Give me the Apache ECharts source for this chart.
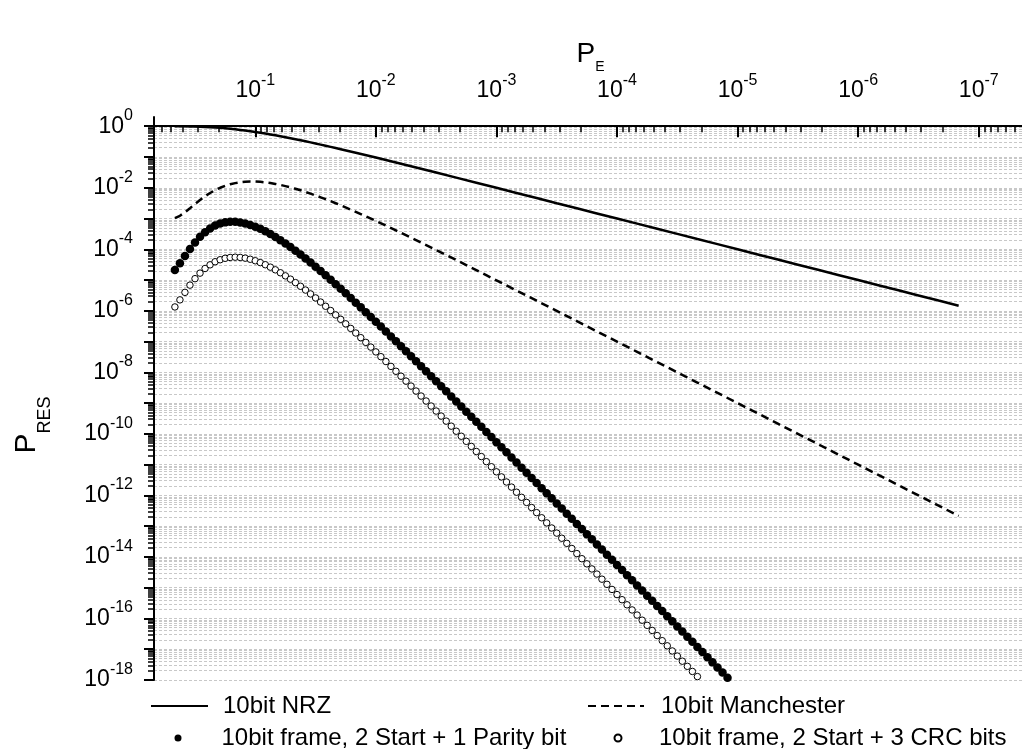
<!DOCTYPE html>
<html><head><meta charset="utf-8">
<script src="https://cdn.jsdelivr.net/npm/echarts@6/dist/echarts.min.js"></script>
<style>html,body{margin:0;padding:0;background:#fff}#c{width:1022px;height:749px}</style>
</head><body><div id="c"></div>
<script>
const seriesNames = ['10bit NRZ', '10bit Manchester', '10bit frame, 2 Start + 1 Parity bit', '10bit frame, 2 Start + 3 CRC bits'];
const xLabelExps = [-7, -6, -5, -4, -3, -2, -1];
const yTickExps = [-18, -17, -16, -15, -14, -13, -12, -11, -10, -9, -8, -7, -6, -5, -4, -3, -2, -1, 0];
const yLabelExps = [-18, -16, -14, -12, -10, -8, -6, -4, -2, 0];

const peDots = [
 4.642e-1, 4.217e-1, 3.831e-1, 3.481e-1, 3.162e-1, 2.873e-1, 2.610e-1, 2.371e-1, 2.154e-1, 1.957e-1, 1.778e-1, 1.616e-1, 1.468e-1, 1.334e-1, 1.212e-1, 1.101e-1,
 1e-1, 9.085e-2, 8.254e-2, 7.499e-2, 6.813e-2, 6.190e-2, 5.623e-2, 5.109e-2, 4.642e-2, 4.217e-2, 3.831e-2, 3.481e-2, 3.162e-2, 2.873e-2, 2.610e-2, 2.371e-2, 2.154e-2, 1.957e-2, 1.778e-2, 1.616e-2, 1.468e-2, 1.334e-2, 1.212e-2, 1.101e-2,
 1e-2, 9.085e-3, 8.254e-3, 7.499e-3, 6.813e-3, 6.190e-3, 5.623e-3, 5.109e-3, 4.642e-3, 4.217e-3, 3.831e-3, 3.481e-3, 3.162e-3, 2.873e-3, 2.610e-3, 2.371e-3, 2.154e-3, 1.957e-3, 1.778e-3, 1.616e-3, 1.468e-3, 1.334e-3, 1.212e-3, 1.101e-3,
 1e-3, 9.085e-4, 8.254e-4, 7.499e-4, 6.813e-4, 6.190e-4, 5.623e-4, 5.109e-4, 4.642e-4, 4.217e-4, 3.831e-4, 3.481e-4, 3.162e-4, 2.873e-4, 2.610e-4, 2.371e-4, 2.154e-4, 1.957e-4, 1.778e-4, 1.616e-4, 1.468e-4, 1.334e-4, 1.212e-4, 1.101e-4,
 1e-4, 9.085e-5, 8.254e-5, 7.499e-5, 6.813e-5, 6.190e-5, 5.623e-5, 5.109e-5, 4.642e-5, 4.217e-5, 3.831e-5, 3.481e-5, 3.162e-5, 2.873e-5, 2.610e-5, 2.371e-5, 2.154e-5, 1.957e-5, 1.778e-5, 1.616e-5, 1.468e-5, 1.334e-5, 1.212e-5, 1.101e-5
];

const parityExp = [
 -4.673, -4.456, -4.222, -3.992, -3.780, -3.596, -3.443, -3.322, -3.230, -3.165, -3.125, -3.106, -3.107, -3.126, -3.159, -3.207,
 -3.266, -3.336, -3.416, -3.504, -3.600, -3.703, -3.813, -3.927, -4.047, -4.171, -4.300, -4.431, -4.567, -4.705, -4.846, -4.989, -5.134, -5.282, -5.431, -5.582, -5.734, -5.888, -6.043, -6.199,
 -6.356, -6.513, -6.672, -6.831, -6.992, -7.152, -7.313, -7.475, -7.637, -7.800, -7.963, -8.126, -8.290, -8.454, -8.618, -8.782, -8.947, -9.112, -9.277, -9.442, -9.607, -9.772, -9.938, -10.104,
 -10.269, -10.435, -10.601, -10.767, -10.933, -11.099, -11.265, -11.431, -11.597, -11.764, -11.930, -12.096, -12.263, -12.429, -12.595, -12.762, -12.928, -13.095, -13.261, -13.428, -13.594, -13.761, -13.928, -14.094,
 -14.261, -14.427, -14.594, -14.760, -14.927, -15.094, -15.260, -15.427, -15.594, -15.760, -15.927, -16.093, -16.260, -16.427, -16.593, -16.760, -16.927, -17.093, -17.260, -17.427, -17.593, -17.760, -17.927, -18.093
];

const crcExp = [
 -5.874, -5.644, -5.400, -5.165, -4.955, -4.775, -4.624, -4.505, -4.405, -4.340, -4.293, -4.266, -4.257, -4.265, -4.288, -4.324,
 -4.373, -4.433, -4.502, -4.581, -4.668, -4.763, -4.864, -4.971, -5.084, -5.202, -5.325, -5.451, -5.581, -5.715, -5.852, -5.991, -6.133, -6.277, -6.423, -6.572, -6.721, -6.873, -7.026, -7.180,
 -7.335, -7.491, -7.648, -7.806, -7.965, -8.125, -8.285, -8.446, -8.608, -8.770, -8.932, -9.095, -9.258, -9.421, -9.585, -9.749, -9.913, -10.077, -10.242, -10.407, -10.572, -10.737, -10.902, -11.068,
 -11.233, -11.399, -11.564, -11.730, -11.896, -12.062, -12.228, -12.394, -12.560, -12.727, -12.893, -13.059, -13.225, -13.392, -13.558, -13.725, -13.891, -14.057, -14.224, -14.390, -14.557, -14.723, -14.890, -15.056,
 -15.223, -15.390, -15.556, -15.723, -15.889, -16.056, -16.223, -16.389, -16.556, -16.722, -16.889, -17.056, -17.222, -17.389, -17.556, -17.722, -17.889, -18.056
];

const peLine = [
 4.642e-1, 4.217e-1, 3.831e-1, 3.481e-1, 3.162e-1, 2.873e-1, 2.610e-1, 2.371e-1, 2.154e-1, 1.957e-1, 1.778e-1, 1.616e-1, 1.468e-1, 1.334e-1, 1.212e-1, 1.101e-1,
 1e-1, 9.085e-2, 8.254e-2, 7.499e-2, 6.813e-2, 6.190e-2, 5.623e-2, 5.109e-2, 4.642e-2, 4.217e-2, 3.831e-2, 3.481e-2, 3.162e-2, 2.873e-2, 2.610e-2, 2.371e-2, 2.154e-2, 1.957e-2,
 1.468e-2, 1e-2, 6.813e-3, 4.642e-3, 3.162e-3, 2.154e-3, 1.468e-3, 1e-3, 6.813e-4, 4.642e-4, 3.162e-4, 2.154e-4, 1.468e-4, 1e-4, 6.813e-5, 4.642e-5, 3.162e-5, 2.154e-5, 1.468e-5,
 1e-5, 6.813e-6, 4.642e-6, 3.162e-6, 2.154e-6, 1.468e-6, 1e-6, 6.813e-7, 4.642e-7, 3.162e-7, 2.154e-7, 1.468e-7
];

const nrzExp = [
 -0.001, -0.002, -0.003, -0.006, -0.010, -0.015, -0.022, -0.030, -0.040, -0.052, -0.066, -0.082, -0.099, -0.119, -0.140, -0.162,
 -0.186, -0.212, -0.238, -0.266, -0.296, -0.326, -0.357, -0.389, -0.422, -0.456, -0.490, -0.525, -0.561, -0.597, -0.634, -0.671, -0.708, -0.746,
 -0.861, -1.019, -1.180, -1.342, -1.506, -1.671, -1.836, -2.002, -2.168, -2.334, -2.501, -2.667, -2.834, -3.000, -3.167, -3.333, -3.500, -3.667, -3.833,
 -4.000, -4.167, -4.333, -4.500, -4.667, -4.833, -5.000, -5.167, -5.333, -5.500, -5.667, -5.833
];

const manExp = [
 -2.990, -2.911, -2.796, -2.664, -2.528, -2.397, -2.277, -2.171, -2.079, -2.001, -1.938, -1.887, -1.849, -1.822, -1.805, -1.798,
 -1.799, -1.808, -1.824, -1.847, -1.875, -1.908, -1.946, -1.987, -2.034, -2.083, -2.136, -2.191, -2.249, -2.310, -2.372, -2.437, -2.503, -2.570,
 -2.782, -3.078, -3.387, -3.703, -4.025, -4.350, -4.678, -5.008, -5.339, -5.670, -6.002, -6.335, -6.668, -7.001, -7.334, -7.667, -8.000, -8.334, -8.667,
 -9.000, -9.333, -9.667, -10.000, -10.333, -10.667, -11.000, -11.333, -11.667, -12.000, -12.333, -12.667
];

// ---- chart ----
const FONT = '"Liberation Sans", Arial, Helvetica, sans-serif';
const CLEAR = 'rgba(0,0,0,0)';
const X_MIN = -7.4, X_MAX = -0.16, Y_MIN = -18, Y_MAX = 0.3;

function minorVals(lo, hi) {
  const out = [];
  for (let n = Math.floor(lo) - 1; n <= Math.ceil(hi); n++) {
    for (let k = 2; k <= 9; k++) {
      const v = n + Math.log10(k);
      if (v >= lo && v <= hi) out.push(v);
    }
  }
  return out;
}
const xMajor = [];
for (let n = Math.ceil(X_MIN); n <= Math.floor(X_MAX); n++) xMajor.push(n);

const ex = v => String(Math.round(v));
// base "10" drawn on one axis, exponent drawn on a twin axis shifted upward
const richLbl = {
  b: { fontSize: 23, lineHeight: 24, color: '#000', fontFamily: FONT },
  hb: { fontSize: 23, lineHeight: 24, color: CLEAR, fontFamily: FONT },
  s: { fontSize: 16, lineHeight: 24, color: '#000', fontFamily: FONT },
  hs: { fontSize: 16, lineHeight: 24, color: CLEAR, fontFamily: FONT }
};
const baseFmt = v => '{b|10}{hs|' + ex(v) + '}';
const expFmtX = v => '{hb|10}{s|' + ex(v) + '}';
const expFmtY = v => '{s|' + ex(v) + '}';

const richName = {
  p: { fontSize: 28, lineHeight: 30, color: '#000', fontFamily: FONT },
  hp: { fontSize: 28, lineHeight: 30, color: CLEAR, fontFamily: FONT },
  e: { fontSize: 14, lineHeight: 30, color: '#000', fontFamily: FONT },
  he: { fontSize: 14, lineHeight: 30, color: CLEAR, fontFamily: FONT },
  pY: { fontSize: 30, lineHeight: 32, color: '#000', fontFamily: FONT },
  hpY: { fontSize: 30, lineHeight: 32, color: CLEAR, fontFamily: FONT },
  r: { fontSize: 18, lineHeight: 32, color: '#000', fontFamily: FONT },
  hr: { fontSize: 18, lineHeight: 32, color: CLEAR, fontFamily: FONT }
};

const gridLine = { show: true, lineStyle: { color: '#c8c8c8', width: 1, type: [3, 2] } };
const noSymbol = { color: CLEAR, borderColor: CLEAR, borderWidth: 0 };

const toPts = (xs, ys) => ys.map((y, i) => [Math.log10(xs[i]), y]);

const chart = echarts.init(document.getElementById('c'), null, { renderer: 'canvas' });
chart.setOption({
  animation: false,
  backgroundColor: '#fff',
  textStyle: { fontFamily: FONT },
  grid: { left: 154, right: -5, top: 117, bottom: 69, containLabel: false, outerBoundsMode: 'none' },
  xAxis: [
    {
      type: 'value', position: 'top', inverse: true, min: X_MIN, max: X_MAX,
      name: '{p|P}{he|E}', nameLocation: 'middle', nameGap: 48, nameMoveOverlap: false,
      nameTextStyle: { rich: richName },
      axisLine: { show: true, lineStyle: { color: '#000', width: 2 } },
      axisTick: { show: true, inside: true, length: 11, customValues: xMajor, lineStyle: { color: '#000', width: 2 } },
      axisLabel: { show: true, margin: 14, customValues: xLabelExps, formatter: baseFmt, rich: richLbl },
      splitLine: { show: false }
    },
    {
      type: 'value', position: 'top', inverse: true, min: X_MIN, max: X_MAX,
      name: '{hp|P}{e|E}', nameLocation: 'middle', nameGap: 35, nameMoveOverlap: false,
      nameTextStyle: { rich: richName },
      axisLine: { show: false },
      axisTick: { show: true, inside: true, length: 6, customValues: minorVals(X_MIN, X_MAX), lineStyle: { color: '#000', width: 1.5 } },
      axisLabel: { show: true, margin: 24.5, customValues: xLabelExps, formatter: expFmtX, rich: richLbl },
      splitLine: { show: false }
    }
  ],
  yAxis: [
    {
      type: 'value', min: Y_MIN, max: Y_MAX, position: 'left',
      name: '{pY|P}{hr|RES}', nameLocation: 'middle', nameRotate: 90, nameGap: 111, nameMoveOverlap: false,
      nameTextStyle: { padding: [0, 53, 0, 0], rich: richName },
      axisLine: { show: true, lineStyle: { color: '#000', width: 2 } },
      axisTick: { show: true, inside: false, length: 10, customValues: yTickExps, lineStyle: { color: '#000', width: 2 } },
      axisLabel: { show: true, margin: 21, customValues: yLabelExps, formatter: baseFmt, rich: richLbl },
      splitLine: gridLine
    },
    {
      type: 'value', min: Y_MIN, max: Y_MAX, position: 'left',
      name: '{hpY|P}{r|RES}', nameLocation: 'middle', nameRotate: 90, nameGap: 93, nameMoveOverlap: false,
      nameTextStyle: { padding: [0, 53, 0, 0], rich: richName },
      axisLine: { show: false },
      axisTick: { show: true, inside: false, length: 6, customValues: minorVals(Y_MIN, Y_MAX), lineStyle: { color: '#000', width: 1.5 } },
      axisLabel: { show: true, margin: 21, padding: [0, 0, 21, 0], customValues: yLabelExps, formatter: expFmtY, rich: richLbl },
      splitLine: gridLine
    }
  ],
  legend: [
    { data: [seriesNames[0]], left: 150, top: 694, padding: 0, itemWidth: 57, itemHeight: 14, selectedMode: false,
      itemStyle: noSymbol,
      textStyle: { fontSize: 24, color: '#000', fontFamily: FONT, padding: [0, 0, 0, 10] } },
    { data: [seriesNames[1]], left: 587, top: 694, padding: 0, itemWidth: 56, itemHeight: 14, selectedMode: false,
      itemStyle: noSymbol,
      textStyle: { fontSize: 24, color: '#000', fontFamily: FONT, padding: [0, 0, 0, 12] } },
    { data: [seriesNames[2]], left: 174.5, top: 726, padding: 0, itemWidth: 57, itemHeight: 7, selectedMode: false,
      textStyle: { fontSize: 24, color: '#000', fontFamily: FONT, padding: [0, 0, 0, 10] } },
    { data: [seriesNames[3]], left: 613.5, top: 726, padding: 0, itemWidth: 56, itemHeight: 7, selectedMode: false,
      textStyle: { fontSize: 24, color: '#000', fontFamily: FONT, padding: [0, 0, 0, 8] } }
  ],
  series: [
    { name: seriesNames[0], type: 'line', xAxisIndex: 0, yAxisIndex: 0, data: toPts(peLine, nrzExp),
      symbol: 'none', smooth: false, lineStyle: { color: '#000', width: 2.5, type: 'solid' }, itemStyle: { color: '#000' } },
    { name: seriesNames[1], type: 'line', xAxisIndex: 0, yAxisIndex: 0, data: toPts(peLine, manExp),
      symbol: 'none', smooth: false, lineStyle: { color: '#000', width: 2.5, type: [8, 5] }, itemStyle: { color: '#000' } },
    { name: seriesNames[2], type: 'scatter', xAxisIndex: 0, yAxisIndex: 0, data: toPts(peDots, parityExp),
      symbol: 'circle', symbolSize: 8.5, itemStyle: { color: '#000', opacity: 1 } },
    { name: seriesNames[3], type: 'scatter', xAxisIndex: 0, yAxisIndex: 0, data: toPts(peDots, crcExp),
      symbol: 'circle', symbolSize: 6.5, itemStyle: { color: '#fff', borderColor: '#000', borderWidth: 1, opacity: 1 } }
  ]
});
</script>
</body></html>
